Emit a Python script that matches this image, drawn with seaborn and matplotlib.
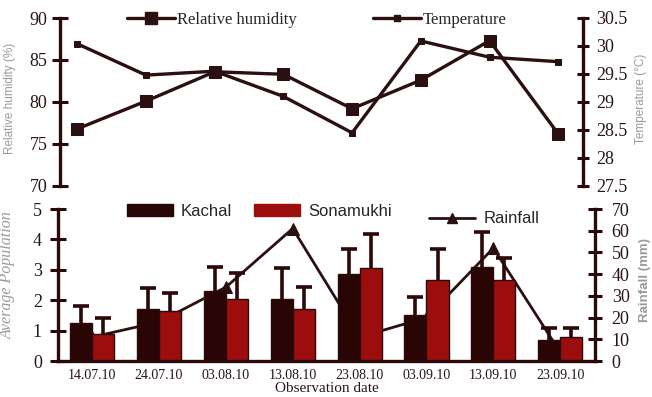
import numpy as np
import pandas as pd
import matplotlib
matplotlib.use("Agg")
import matplotlib.pyplot as plt
from matplotlib.lines import Line2D
from matplotlib.patches import Patch
import seaborn as sns

# ---------------- data ----------------
dates = ["14.07.10", "24.07.10", "03.08.10", "13.08.10",
         "23.08.10", "03.09.10", "13.09.10", "23.09.10"]
rel_humidity = [76.8, 80.1, 83.6, 83.3, 79.2, 82.6, 87.3, 76.2]
temperature = [30.04, 29.48, 29.55, 29.1, 28.45, 30.09, 29.8, 29.72]
kachal = [1.25, 1.7, 2.3, 2.05, 2.85, 1.5, 3.1, 0.7]
kachal_err = [0.55, 0.7, 0.8, 1.0, 0.82, 0.62, 1.13, 0.38]
sonamukhi = [0.9, 1.65, 2.05, 1.7, 3.05, 2.65, 2.65, 0.8]
sonamukhi_err = [0.5, 0.6, 0.85, 0.75, 1.12, 1.02, 0.75, 0.28]
rainfall = [11, 18, 34, 61, 11, 20, 52, 4]
varieties = ["Kachal", "Sonamukhi"]

# ---------------- style ----------------
sns.set_style("white")
plt.rcParams["font.family"] = ["Liberation Serif", "DejaVu Serif"]

DARK = "#2b0909"
LINE = "#2a1010"
KACHAL_C = "#2a0505"
SONA_C = "#9c0e0e"
GREY = "#9a9a9a"
TXT = "#2a1414"
SANS = ["Liberation Sans", "DejaVu Sans"]

fig = plt.figure(figsize=(6.52, 3.97), dpi=100)
W, H = 652, 397

# top panel axes: px left 60, right 583, top 18, bottom 186
ax_top = fig.add_axes([60 / W, 1 - 186 / H, (583 - 60) / W, (186 - 18) / H])
ax_top2 = ax_top.twinx()
# bottom panel axes: px left 58, right 595, top 209, bottom 361
ax_bot = fig.add_axes([58 / W, 1 - 361 / H, (595 - 58) / W, (361 - 209) / H])
ax_bot2 = ax_bot.twinx()

xpos = np.arange(len(dates))

# ---------------- top panel ----------------
sns.lineplot(x=xpos, y=rel_humidity, ax=ax_top, color=LINE, lw=2.4,
             marker="s", markersize=8, markeredgecolor=LINE, markerfacecolor=LINE)
sns.lineplot(x=xpos, y=temperature, ax=ax_top2, color=LINE, lw=2.4,
             marker="s", markersize=5, markeredgecolor=LINE, markerfacecolor=LINE)

ax_top.set_xlim(-0.25, 7.36)
ax_top.set_ylim(70, 90)
ax_top2.set_ylim(27.5, 30.5)
ax_top.set_yticks([70, 75, 80, 85, 90])
ax_top2.set_yticks([27.5, 28, 28.5, 29, 29.5, 30, 30.5])
ax_top2.set_yticklabels(["27.5", "28", "28.5", "29", "29.5", "30", "30.5"])
ax_top.set_xticks([])
for a in (ax_top, ax_top2):
    for s in ("top", "bottom"):
        a.spines[s].set_visible(False)
ax_top.spines["right"].set_visible(False)
ax_top2.spines["left"].set_visible(False)
ax_top.spines["left"].set_color(DARK)
ax_top.spines["left"].set_linewidth(2.4)
ax_top2.spines["right"].set_color(DARK)
ax_top2.spines["right"].set_linewidth(2.4)
ax_top.tick_params(axis="y", direction="inout", length=12, width=2.2, color=DARK,
                   labelsize=13, labelcolor=TXT, pad=3)
ax_top2.tick_params(axis="y", direction="inout", length=9, width=2.2, color=DARK,
                    labelsize=13, labelcolor=TXT, pad=5)
ax_top.set_ylabel("Relative humidity (%)", fontsize=8.5, color=GREY, family=SANS)
ax_top.yaxis.set_label_coords(-0.084, 0.52)
ax_top2.set_ylabel("Temperature (°C)", fontsize=8.5, color=GREY, rotation=90,
                   family=SANS)
ax_top2.yaxis.set_label_coords(1.1, 0.52)
ax_top.set_xlabel("")

# ---------------- bottom panel ----------------
df = pd.DataFrame({
    "date": dates * 2,
    "variety": [varieties[0]] * len(dates) + [varieties[1]] * len(dates),
    "pop": kachal + sonamukhi,
})
sns.barplot(data=df, x="date", y="pop", hue="variety", order=dates,
            hue_order=varieties, palette=[KACHAL_C, SONA_C], width=0.66,
            errorbar=None, ax=ax_bot, legend=False, edgecolor=DARK,
            linewidth=1.0, saturation=1)

for cont, errs in zip(ax_bot.containers, [kachal_err, sonamukhi_err]):
    xs = [b.get_x() + b.get_width() / 2 for b in cont]
    ys = [b.get_height() for b in cont]
    eb = ax_bot.errorbar(xs, ys, yerr=[np.zeros(len(errs)), errs], fmt="none",
                         ecolor=DARK, elinewidth=2.6, capsize=6, capthick=2.6,
                         zorder=3)
    if len(eb[1]) > 1:
        eb[1][0].set_visible(False)

sns.lineplot(x=xpos, y=rainfall, ax=ax_bot2, color=LINE, lw=2.0,
             marker="^", markersize=8, markeredgecolor=LINE, markerfacecolor=LINE)
ax_bot2.set_zorder(ax_bot.get_zorder() - 1)
ax_bot.patch.set_visible(False)
ax_bot2.patch.set_visible(True)
ax_bot2.patch.set_facecolor("white")

ax_bot.set_xlim(-0.51, 7.52)
ax_bot.set_ylim(0, 5)
ax_bot2.set_ylim(0, 70)
ax_bot.set_yticks([0, 1, 2, 3, 4, 5])
ax_bot2.set_yticks([0, 10, 20, 30, 40, 50, 60, 70])
ax_bot.set_xticks(xpos)
ax_bot.set_xticklabels(dates)
ax_bot.set_xticks(np.arange(len(dates) - 1) + 0.5, minor=True)
ax_bot.tick_params(axis="x", which="major", length=0, labelsize=10,
                   labelcolor=TXT, pad=6)
ax_bot.tick_params(axis="x", which="minor", direction="inout", length=10,
                   width=2.4, color=DARK)
ax_bot.tick_params(axis="y", direction="inout", length=12, width=2.2, color=DARK,
                   labelsize=13, labelcolor=TXT, pad=5.5)
ax_bot2.tick_params(axis="y", direction="inout", length=10, width=2.2, color=DARK,
                    labelsize=13, labelcolor=TXT, pad=7)
ax_bot.spines["top"].set_visible(False)
ax_bot2.spines["top"].set_visible(False)
ax_bot.spines["right"].set_visible(False)
ax_bot2.spines["left"].set_visible(False)
ax_bot2.spines["bottom"].set_visible(False)
for a, s in ((ax_bot, "left"), (ax_bot, "bottom"), (ax_bot2, "right")):
    a.spines[s].set_color(DARK)
    a.spines[s].set_linewidth(2.4)

ax_bot.set_xlabel("Observation date", fontsize=11, color=TXT, labelpad=0)
ax_bot.set_ylabel("Average Population", fontsize=11.5, color=GREY, style="italic")
ax_bot.yaxis.set_label_coords(-0.078, 0.566)
ax_bot2.set_ylabel("Rainfall (mm)", fontsize=9.5, color=GREY, weight="bold",
                   rotation=90, family=SANS)
ax_bot2.yaxis.set_label_coords(1.082, 0.53)

# ---------------- legends ----------------
h_rh = Line2D([], [], color=LINE, lw=2.4, marker="s", markersize=8)
h_t = Line2D([], [], color=LINE, lw=2.4, marker="s", markersize=5)
fig.legend([h_rh], ["Relative humidity"], loc="center",
           bbox_to_anchor=(212 / W, 1 - 20 / H), frameon=False, fontsize=12,
           handlelength=2.9, handletextpad=0.1, borderpad=0)
fig.legend([h_t], ["Temperature"], loc="center",
           bbox_to_anchor=(440 / W, 1 - 20 / H), frameon=False, fontsize=12,
           handlelength=2.9, handletextpad=0.1, borderpad=0)

h_k = Patch(facecolor=KACHAL_C, edgecolor=KACHAL_C)
h_s = Patch(facecolor=SONA_C, edgecolor=SONA_C)
fig.legend([h_k, h_s], varieties, loc="center",
           bbox_to_anchor=(259 / W, 1 - 211 / H), frameon=False, ncol=2,
           prop={"family": SANS, "size": 12},
           handlelength=2.8, handleheight=0.7, handletextpad=0.45,
           columnspacing=1.3, borderpad=0)
h_r = Line2D([], [], color=LINE, lw=2.0, marker="^", markersize=7)
fig.legend([h_r], ["Rainfall"], loc="center",
           bbox_to_anchor=(484 / W, 1 - 219 / H), frameon=False,
           prop={"family": SANS, "size": 12},
           handlelength=2.8, handletextpad=0.5, borderpad=0)

fig.savefig("out.png", dpi=100, facecolor="white")
